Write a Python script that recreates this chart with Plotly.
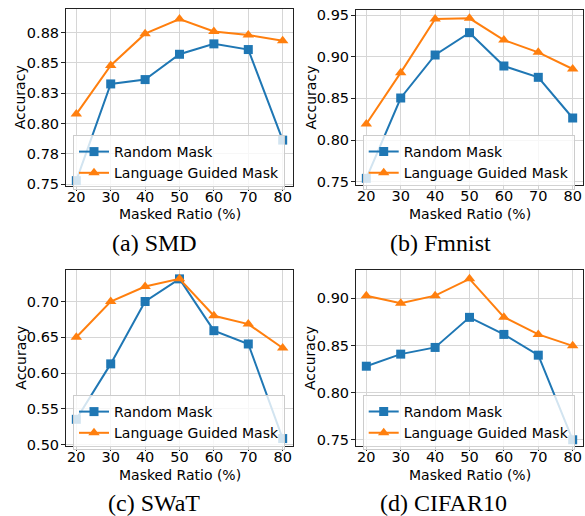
import plotly.graph_objects as go

W, H = 585, 516

masked_ratio = [20, 30, 40, 50, 60, 70, 80]

smd_random = [0.7528, 0.8327, 0.8363, 0.8572, 0.8658, 0.8611, 0.7863]
smd_lgm = [0.8078, 0.8480, 0.8742, 0.8863, 0.8761, 0.8731, 0.8684]

fmnist_random = [0.754, 0.8504, 0.902, 0.9288, 0.8888, 0.8752, 0.8264]
fmnist_lgm = [0.8192, 0.8808, 0.9452, 0.946, 0.920, 0.9052, 0.8852]

swat_random = [0.5353, 0.6128, 0.700, 0.7316, 0.6592, 0.6406, 0.5084]
swat_lgm = [0.650, 0.700, 0.7209, 0.7316, 0.680, 0.6684, 0.635]

cifar_random = [0.828, 0.8408, 0.8479, 0.8798, 0.8617, 0.8397, 0.750]
cifar_lgm = [0.9028, 0.8947, 0.9028, 0.9206, 0.880, 0.8617, 0.8496]

smd_ticks = [0.75, 0.775, 0.80, 0.825, 0.85, 0.875]
smd_ticktext = ["0.75", "0.78", "0.80", "0.83", "0.85", "0.88"]
fmnist_ticks = [0.75, 0.80, 0.85, 0.90, 0.95]
swat_ticks = [0.50, 0.55, 0.60, 0.65, 0.70]
cifar_ticks = [0.75, 0.80, 0.85, 0.90]

captions = ["(a) SMD", "(b) Fmnist", "(c) SWaT", "(d) CIFAR10"]
series_names = ["Random Mask", "Language Guided Mask"]

BLUE = "#1f77b4"
ORANGE = "#ff7f0e"
FONT = "DejaVu Sans"

# panel geometry in pixels: (left, right, top, bottom)
panels = [
    dict(box=(66, 293, 9, 185.5), yr=(0.7488, 0.8946), random=smd_random, lgm=smd_lgm,
         tv=smd_ticks, tt=smd_ticktext, leg=(73, 135), cap=(154, 243), ytitle_x=20),
    dict(box=(356, 583, 10, 185), yr=(0.746, 0.956), random=fmnist_random, lgm=fmnist_lgm,
         tv=fmnist_ticks, tt=[f"{v:.2f}" for v in fmnist_ticks], leg=(362.7, 135), cap=(440, 243), ytitle_x=310),
    dict(box=(66, 293, 270, 446), yr=(0.498, 0.744), random=swat_random, lgm=swat_lgm,
         tv=swat_ticks, tt=[f"{v:.2f}" for v in swat_ticks], leg=(73, 395), cap=(154, 503), ytitle_x=20.7),
    dict(box=(356, 583, 270, 446), yr=(0.7434, 0.930), random=cifar_random, lgm=cifar_lgm,
         tv=cifar_ticks, tt=[f"{v:.2f}" for v in cifar_ticks], leg=(362.7, 395), cap=(443, 503), ytitle_x=310),
]

def px(x):
    return x / W

def py(y):
    return 1 - y / H

fig = go.Figure()
annotations = []
layout_extra = {}

for i, p in enumerate(panels):
    n = i + 1
    xa = "x" if n == 1 else f"x{n}"
    ya = "y" if n == 1 else f"y{n}"
    leg = "legend" if n == 1 else f"legend{n}"
    l, r, t, b = p["box"]
    fig.add_trace(go.Scatter(
        x=masked_ratio, y=p["random"], mode="lines+markers", name=series_names[0],
        line=dict(color=BLUE, width=2), marker=dict(symbol="square", size=9, color=BLUE),
        xaxis=xa, yaxis=ya, legend=leg, cliponaxis=False))
    fig.add_trace(go.Scatter(
        x=masked_ratio, y=p["lgm"], mode="lines+markers", name=series_names[1],
        line=dict(color=ORANGE, width=2), marker=dict(symbol="triangle-up", size=10, color=ORANGE),
        xaxis=xa, yaxis=ya, legend=leg, cliponaxis=False))

    axis_common = dict(
        showline=True, linecolor="#222222", linewidth=1, mirror=True,
        showgrid=True, gridcolor="#d6d6d6", gridwidth=1,
        ticks="outside", ticklen=4, tickcolor="#222222",
        tickfont=dict(family=FONT, size=14.5, color="black"),
        zeroline=False, automargin=False,
    )
    layout_extra["xaxis" if n == 1 else f"xaxis{n}"] = dict(
        axis_common, domain=[px(l), px(r)], range=[17, 83],
        tickvals=masked_ratio, anchor=ya, ticklabelstandoff=-6)
    layout_extra["yaxis" if n == 1 else f"yaxis{n}"] = dict(
        axis_common, domain=[py(b), py(t)], range=list(p["yr"]),
        tickvals=p["tv"], ticktext=p["tt"], anchor=xa, ticklabelstandoff=-1)
    lx, ly = p["leg"]
    layout_extra[leg] = dict(
        x=px(lx), y=py(ly), xanchor="left", yanchor="top",
        bgcolor="rgba(255,255,255,0.8)", bordercolor="#cccccc", borderwidth=1,
        font=dict(family=FONT, size=14, color="black"), tracegroupgap=0)

    annotations.append(dict(
        text="Accuracy", x=px(p["ytitle_x"]), y=py((t + b) / 2), xref="paper", yref="paper",
        textangle=-90, showarrow=False, xanchor="center", yanchor="middle",
        font=dict(family=FONT, size=14, color="black")))
    annotations.append(dict(
        text="Masked Ratio (%)", x=px((l + r) / 2), y=py(b + 28.5), xref="paper", yref="paper",
        showarrow=False, xanchor="center", yanchor="middle",
        font=dict(family=FONT, size=14, color="black")))
    cx, cy = p["cap"]
    annotations.append(dict(
        text=captions[i], x=px(cx), y=py(cy), xref="paper", yref="paper",
        showarrow=False, xanchor="center", yanchor="middle",
        font=dict(family="Liberation Serif", size=24, color="black")))

fig.update_layout(
    width=W, height=H, margin=dict(l=0, r=0, t=0, b=0),
    paper_bgcolor="white", plot_bgcolor="white",
    annotations=annotations, **layout_extra)

fig.write_html("out.html")
